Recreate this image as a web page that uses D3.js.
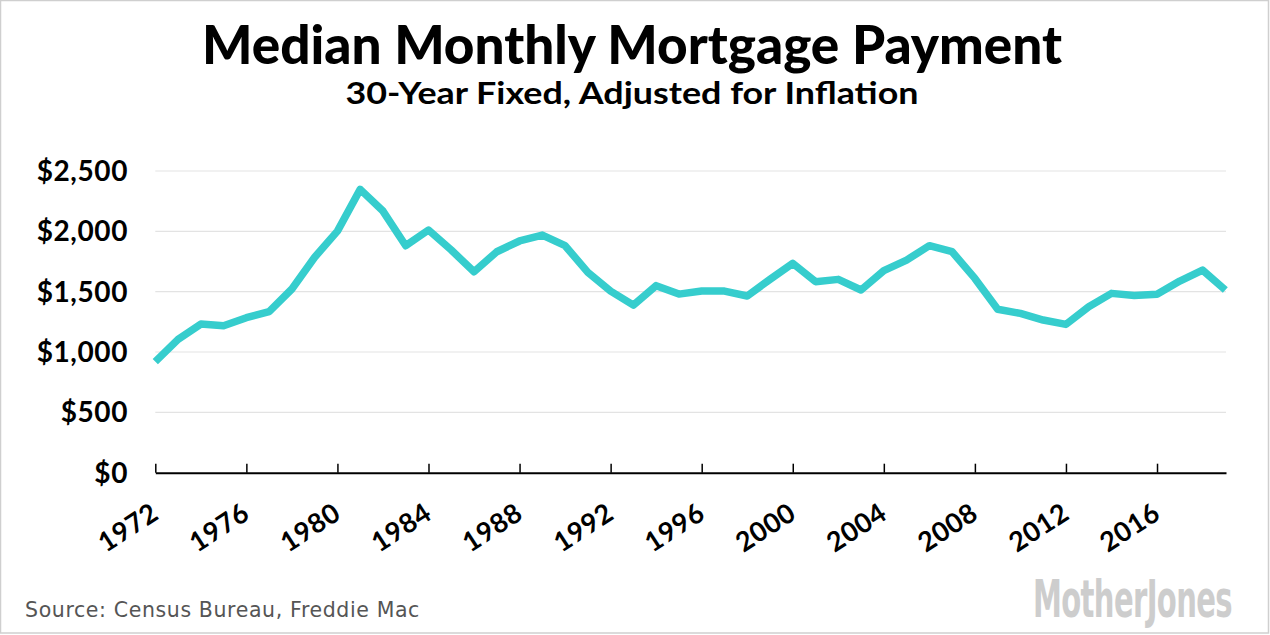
<!DOCTYPE html>
<html>
<head>
<meta charset="utf-8">
<script src="https://cdn.jsdelivr.net/npm/d3@7"></script>
<style>
  html, body { margin: 0; padding: 0; background: #fff; }
  svg { display: block; }
</style>
</head>
<body>
<div id="chart"></div>
<script>
// data
const years = d3.range(1972, 2020);
const payments = [
  920, 1105, 1232, 1218, 1284, 1334, 1522, 1785, 2002, 2348,
  2168, 1881, 2011, 1845, 1665, 1831, 1920, 1969, 1881, 1660,
  1505, 1389, 1550, 1480, 1505, 1505, 1464, 1602, 1735, 1583,
  1602, 1514, 1675, 1762, 1881, 1831, 1610, 1354, 1320, 1265,
  1229, 1375, 1486, 1469, 1478, 1588, 1679, 1514
];
const yTicks = [0, 500, 1000, 1500, 2000, 2500];
const xTicks = [1972, 1976, 1980, 1984, 1988, 1992, 1996, 2000, 2004, 2008, 2012, 2016];

const title = "Median Monthly Mortgage Payment";
const subtitle = "30-Year Fixed, Adjusted for Inflation";
const source = "Source: Census Bureau, Freddie Mac";

const W = 1270, H = 635;
const margin = { left: 155.3, right: W - 1226, top: 171, bottom: H - 472.7 };
const boldFont = "Lato, 'Open Sans', sans-serif";

const svg = d3.select("#chart").append("svg")
  .attr("width", W).attr("height", H);

svg.append("rect")
  .attr("x", 0.5).attr("y", 0.5)
  .attr("width", 1268).attr("height", 632.5)
  .attr("fill", "#fff").attr("stroke", "#cfcfcf").attr("stroke-width", 1.5);

// spread letters so a text spans a given width (keeps its height)
function spreadTo(sel, target) {
  const node = sel.node();
  const n = sel.text().length;
  const len = node.getComputedTextLength();
  sel.attr("letter-spacing", (target - len) / n);
}

const x = d3.scaleLinear().domain([1972, 2019.03]).range([margin.left, W - margin.right]);
const y = d3.scaleLinear().domain([0, 2500]).range([H - margin.bottom, margin.top]);

// titles (squeezed a bit, the original face is a narrow one)
svg.append("text")
  .attr("x", 632).attr("y", 64)
  .attr("text-anchor", "middle")
  .attr("font-family", boldFont).attr("font-weight", 900)
  .attr("font-size", 53).attr("fill", "#000")
  .attr("textLength", 860).attr("lengthAdjust", "spacingAndGlyphs")
  .text(title);

svg.append("text")
  .attr("x", 632).attr("y", 104)
  .attr("text-anchor", "middle")
  .attr("font-family", boldFont).attr("font-weight", 700)
  .attr("font-size", 31).attr("fill", "#000")
  .attr("textLength", 573).attr("lengthAdjust", "spacingAndGlyphs")
  .text(subtitle);

// gridlines
svg.append("g")
  .selectAll("line")
  .data(yTicks.filter(d => d > 0))
  .join("line")
    .attr("x1", x.range()[0]).attr("x2", x.range()[1])
    .attr("y1", d => y(d)).attr("y2", d => y(d))
    .attr("stroke", "#e3e3e3").attr("stroke-width", 1.2);

// y labels
svg.append("g")
  .selectAll("text")
  .data(yTicks)
  .join("text")
    .attr("x", 128)
    .attr("y", d => y(d) + 10)
    .attr("text-anchor", "end")
    .attr("font-family", boldFont).attr("font-weight", 700)
    .attr("font-size", 28).attr("fill", "#000")
    .attr("letter-spacing", 0.6)
    .text(d => "$" + d3.format(",")(d));

// x axis
const xAxis = d3.axisBottom(x)
  .tickValues(xTicks)
  .tickSizeInner(-9)
  .tickSizeOuter(0)
  .tickFormat("");

const gx = svg.append("g")
  .attr("transform", `translate(0,${y(0)})`)
  .call(xAxis);
gx.select(".domain").attr("stroke", "#000").attr("stroke-width", 2);
gx.selectAll(".tick line").attr("stroke", "#000").attr("stroke-width", 1.5);

svg.append("g")
  .selectAll("text")
  .data(xTicks)
  .join("text")
    .attr("transform", d => `translate(${x(d) + 5},${y(0) + 45}) rotate(-33)`)
    .attr("text-anchor", "end")
    .attr("font-family", boldFont).attr("font-weight", 700)
    .attr("font-size", 27).attr("fill", "#000")
    .attr("letter-spacing", 0.5)
    .text(d => d);

// the line
const line = d3.line()
  .x((d, i) => x(years[i]))
  .y(d => y(d));

svg.append("path")
  .datum(payments)
  .attr("d", line)
  .attr("fill", "none")
  .attr("stroke", "#36cdcd")
  .attr("stroke-width", 7.5)
  .attr("stroke-linejoin", "round");

// footer
svg.append("text")
  .attr("x", 25).attr("y", 617)
  .attr("font-family", "'DejaVu Sans', Verdana, sans-serif")
  .attr("font-size", 20.5).attr("fill", "#555")
  .text(source)
  .call(spreadTo, 395);

// logo: narrow face, squeezed sideways with a transform to fit its box
const logo = svg.append("text")
  .attr("font-family", "'Liberation Sans Narrow', 'DejaVu Sans Condensed', sans-serif")
  .attr("font-weight", 700)
  .attr("font-size", 50).attr("fill", "#cdcdcd")
  .attr("letter-spacing", -1)
  .text("MotherJones");
const logoLen = logo.node().getComputedTextLength();
logo.attr("transform", `translate(1033,617) scale(${199 / logoLen},1.02)`);
</script>
</body>
</html>
